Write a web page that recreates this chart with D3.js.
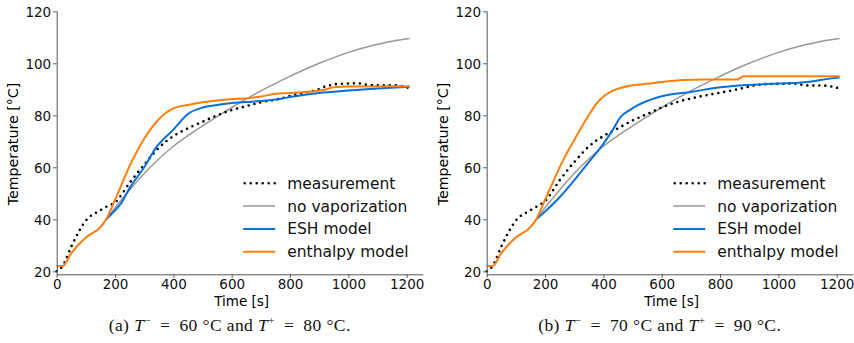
<!DOCTYPE html>
<html>
<head>
<meta charset="utf-8">
<script src="https://cdn.jsdelivr.net/npm/d3@7"></script>
<style>
  body { margin: 0; background: #fff; }
  svg { display: block; }
  .axis path, .axis line { stroke: #555; }
  .axis text { font-family: "DejaVu Sans", sans-serif; font-size: 13.5px; fill: #111; }
</style>
</head>
<body>
<div id="chart"></div>
<script>
// time [s] and temperature [°C]
var xTicks = [0, 200, 400, 600, 800, 1000, 1200];
var yTicks = [20, 40, 60, 80, 100, 120];
var legendLabels = ["measurement", "no vaporization", "ESH model", "enthalpy model"];

var noVapT = [0, 20, 50, 100, 150, 170, 200, 250, 300, 350, 400, 450, 500, 550, 600, 650, 700, 750, 800, 850, 900, 950, 1000, 1050, 1100, 1150, 1210];
var noVapV = [22, 22, 27, 33, 37, 40, 44.5, 51.3, 57.6, 63.2, 68.1, 72.2, 75.9, 79.5, 83, 86.3, 89.4, 92.3, 95, 97.6, 100, 102.2, 104.2, 105.9, 107.3, 108.5, 109.5];

// (a) T- = 60, T+ = 80
var measATime = [0, 20, 50, 100, 150, 170, 200, 250, 300, 350, 400, 450, 500, 550, 600, 650, 700, 750, 820, 890, 925, 960, 1030, 1075, 1165, 1210];
var measAVal = [20, 22, 29.5, 39.5, 43.5, 44.8, 46.5, 54, 61, 67.5, 72, 75, 77.5, 80, 82, 83.5, 85, 86, 88, 89.7, 91.2, 92, 92.3, 91.6, 91.5, 90.4];
var eshATime = [170, 200, 220, 250, 300, 340, 400, 450, 500, 550, 600, 700, 765, 800, 900, 1000, 1100, 1210];
var eshAVal = [40, 43.5, 46, 52, 60, 67.5, 74.5, 80.5, 83, 84, 84.7, 85.5, 86.3, 87, 88.6, 89.5, 90.3, 91];
var enthATime = [0, 20, 50, 100, 150, 170, 200, 250, 300, 350, 400, 450, 500, 550, 600, 650, 700, 745, 800, 910, 930, 950, 1000, 1100, 1210];
var enthAVal = [22, 22, 27, 33, 37, 40, 47.5, 60.5, 71, 78.5, 82.7, 84, 85, 85.7, 86.2, 86.5, 87.2, 88.2, 88.6, 89.6, 90.2, 90.8, 91.1, 91.1, 91.2];

// (b) T- = 70, T+ = 90
var measBTime = [0, 20, 50, 100, 150, 170, 200, 250, 300, 350, 400, 450, 500, 550, 600, 650, 730, 800, 860, 925, 960, 1000, 1050, 1100, 1160, 1210];
var measBVal = [20, 22, 29.5, 39.5, 43.5, 44.8, 47, 55, 62, 68, 72, 75, 78, 80.5, 83, 85, 87.2, 88.7, 90, 91.6, 92, 92.1, 92.2, 91.5, 91.4, 90.3];
var eshBTime = [170, 200, 250, 300, 350, 400, 430, 460, 490, 520, 550, 620, 700, 800, 845, 900, 1000, 1100, 1190, 1210];
var eshBVal = [40, 43, 48.5, 55, 62, 69, 74, 79.5, 82, 84, 85.5, 87.8, 89, 90.8, 91.3, 91.7, 92.2, 92.8, 94.3, 94.5];
var enthBTime = [0, 20, 50, 100, 150, 170, 200, 230, 250, 300, 350, 375, 400, 425, 450, 500, 560, 600, 675, 750, 845, 860, 880, 1000, 1100, 1210];
var enthBVal = [22, 22, 27, 33, 37, 40, 47.5, 55, 60, 70.5, 80, 84.3, 87.2, 89, 90.2, 91.6, 92.2, 92.8, 93.6, 93.8, 93.8, 93.8, 95, 95, 95, 95];

var captionA = ["(a) ", "T", "\u2212", "\u2002=\u200260 \u00b0C and ", "T", "+", "\u2002=\u200280 \u00b0C."];
var captionB = ["(b) ", "T", "\u2212", "\u2002=\u200270 \u00b0C and ", "T", "+", "\u2002=\u200290 \u00b0C."];

var colors = ["#000", "#999", "#0a6fd8", "#ff7f0e"];

function zip(t, v) {
    return t.map(function (d, i) { return { t: d, v: v[i] }; });
}

function init() {
    var W = 854, H = 343;

    var svg = d3.select("#chart")
        .append("svg")
        .attr("width", W)
        .attr("height", H);

    function panel(left, series, caption) {
        var x0 = left, x1 = left + 366.6;
        var top = 11.3, bottom = 274.3;

        var xScale = d3.scaleLinear().domain([0, 1257]).range([x0, x1]);
        var yScale = d3.scaleLinear().domain([18.85, 120]).range([bottom, top]);

        var g = svg.append("g");

        var line = d3.line()
            .x(function (d) { return xScale(d.t); })
            .y(function (d) { return yScale(d.v); })
            .curve(d3.curveMonotoneX);

        // draw order: gray, measurement, ESH, enthalpy
        var order = [1, 0, 2, 3];
        order.forEach(function (k) {
            var p = g.append("path")
                .datum(series[k])
                .attr("fill", "none")
                .attr("stroke", colors[k])
                .attr("d", line);
            if (k == 0) {
                p.attr("stroke-width", 2.6)
                    .attr("stroke-dasharray", "0,6")
                    .attr("stroke-linecap", "round");
            } else if (k == 1) {
                p.attr("stroke-width", 1.5);
            } else {
                p.attr("stroke-width", 2);
            }
        });

        // axes
        var xAxis = d3.axisBottom(xScale).tickValues(xTicks).tickFormat(d3.format("d"))
            .tickSize(3.5).tickPadding(2);
        var gx = g.append("g")
            .attr("class", "axis")
            .attr("transform", "translate(0," + bottom + ")")
            .call(xAxis);
        gx.select(".domain").attr("d", "M" + x0 + ",0.5H" + x1);

        var yAxis = d3.axisLeft(yScale).tickValues(yTicks).tickFormat(d3.format("d"))
            .tickSize(3.5).tickPadding(2);
        var gy = g.append("g")
            .attr("class", "axis")
            .attr("transform", "translate(" + x0 + ",0)")
            .call(yAxis);
        gy.select(".domain").attr("d", "M0.5," + top + "V" + bottom);
        gy.selectAll(".tick text").attr("dy", "0.36em");

        g.append("text")
            .attr("transform", "translate(" + (left - 43.5) + "," + 144 + ") rotate(-90)")
            .attr("text-anchor", "middle")
            .attr("dy", "0.35em")
            .style("font-family", "DejaVu Sans, sans-serif")
            .style("font-size", "14.2px")
            .text("Temperature [\u00b0C]");

        g.append("text")
            .attr("x", left + 185)
            .attr("y", 301)
            .attr("dy", "0.35em")
            .attr("text-anchor", "middle")
            .style("font-family", "DejaVu Sans, sans-serif")
            .style("font-size", "13.5px")
            .text("Time [s]");

        // legend
        var lg = g.append("g").attr("transform", "translate(" + (left + 186.5) + ",183.3)");
        legendLabels.forEach(function (name, i) {
            var row = lg.append("g").attr("transform", "translate(0," + (i * 22.8) + ")");
            var l = row.append("line")
                .attr("x1", 0).attr("x2", 32)
                .attr("stroke", colors[i]);
            if (i == 0) {
                l.attr("stroke-width", 2.6).attr("stroke-dasharray", "0,6")
                    .attr("stroke-linecap", "round").attr("x1", 1.5);
            } else if (i == 1) {
                l.attr("stroke-width", 1.5);
            } else {
                l.attr("stroke-width", 2);
            }
            row.append("text")
                .attr("x", 44)
                .attr("dy", "0.35em")
                .style("font-family", "DejaVu Sans, sans-serif")
                .style("font-size", "15.5px")
                .style("fill", "#111")
                .text(name);
        });

        // caption
        var cap = svg.append("text")
            .attr("x", left + 173)
            .attr("y", 331)
            .attr("text-anchor", "middle")
            .style("font-family", "Liberation Serif, serif")
            .style("font-size", "17.5px")
            .style("letter-spacing", "0.4px")
            .style("fill", "#111");
        caption.forEach(function (s, i) {
            var ts = cap.append("tspan").text(s);
            if (i == 1 || i == 4) ts.style("font-style", "italic");
            if (i == 2 || i == 5) {
                ts.attr("dy", -7).style("font-size", "11px");
            }
            if (i == 3 || i == 6) ts.attr("dy", 7);
        });
    }

    panel(56.7, [zip(measATime, measAVal), zip(noVapT, noVapV), zip(eshATime, eshAVal), zip(enthATime, enthAVal)], captionA);
    panel(486.7, [zip(measBTime, measBVal), zip(noVapT, noVapV), zip(eshBTime, eshBVal), zip(enthBTime, enthBVal)], captionB);
}

window.onload = init;
</script>
</body>
</html>
